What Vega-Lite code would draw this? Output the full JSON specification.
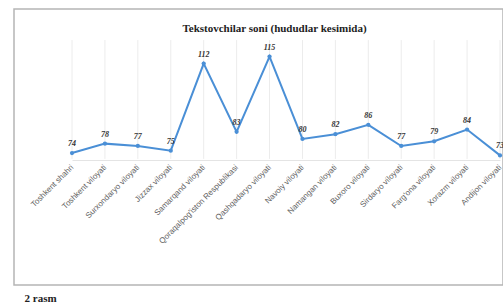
{
  "$schema": "https://vega.github.io/schema/vega-lite/v6.json",
  "width": 489,
  "height": 276,
  "autosize": {"type": "none"},
  "padding": {"left": 14, "top": 9, "right": 0, "bottom": 18},
  "background": "white",
  "title": {
    "text": "Tekstovchilar soni (hududlar kesimida)",
    "orient": "top",
    "anchor": "middle",
    "offset": -25,
    "dx": 16,
    "font": "Liberation Serif",
    "fontSize": 11,
    "fontWeight": "bold",
    "color": "#222222"
  },
  "config": {"view": {"stroke": "#b5b5b5", "strokeWidth": 1.5}},
  "data": {
    "values": [
      {"region": "Toshkent shahri", "value": 74},
      {"region": "Toshkent viloyati", "value": 78},
      {"region": "Surxondaryo viloyati", "value": 77},
      {"region": "Jizzax viloyati", "value": 75},
      {"region": "Samarqand viloyati", "value": 112},
      {"region": "Qoraqalpog'iston Respublikasi", "value": 83},
      {"region": "Qashqadaryo viloyati", "value": 115},
      {"region": "Navoiy viloyati", "value": 80},
      {"region": "Namangan viloyati", "value": 82},
      {"region": "Buxoro viloyati", "value": 86},
      {"region": "Sirdaryo viloyati", "value": 77},
      {"region": "Farg'ona viloyati", "value": 79},
      {"region": "Xorazm viloyati", "value": 84},
      {"region": "Andijon viloyati", "value": 73}
    ]
  },
  "encoding": {
    "x": {
      "field": "region",
      "type": "ordinal",
      "sort": null,
      "scale": {"type": "point", "range": [58, 486], "padding": 0},
      "axis": {
        "title": "2 rasm",
        "titleAnchor": "start",
        "titleX": 10,
        "titleY": 138,
        "titleAlign": "left",
        "titleBaseline": "middle",
        "titleAngle": 0,
        "titleFont": "Liberation Serif",
        "titleFontSize": 11,
        "titleFontWeight": "bold",
        "titleColor": "#222222",
        "offset": -125,
        "labelAngle": -45,
        "labelAlign": "right",
        "labelBaseline": "middle",
        "labelFontSize": 8,
        "labelColor": "#5e5e5e",
        "labelFont": "Liberation Sans",
        "labelPadding": 6,
        "ticks": false,
        "domainColor": "#e4e4e4",
        "grid": false
      }
    }
  },
  "layer": [
    {
      "mark": {"type": "rule", "color": "#ececec", "strokeWidth": 1},
      "encoding": {
        "y": {"datum": 122, "type": "quantitative", "scale": {"domain": [60, 125], "range": [177, 24]}, "axis": null},
        "y2": {"datum": 71.5}
      }
    },
    {
      "mark": {"type": "line", "color": "#4a8fd6", "strokeWidth": 2, "point": {"filled": true, "size": 18, "color": "#4a8fd6"}},
      "encoding": {
        "y": {"field": "value", "type": "quantitative", "axis": null}
      }
    },
    {
      "mark": {"type": "text", "dy": -9, "fontSize": 8, "fontStyle": "italic", "fontWeight": "bold", "color": "#333333", "font": "Liberation Serif"},
      "encoding": {
        "y": {"field": "value", "type": "quantitative", "axis": null},
        "text": {"field": "value", "type": "quantitative"}
      }
    }
  ]
}
